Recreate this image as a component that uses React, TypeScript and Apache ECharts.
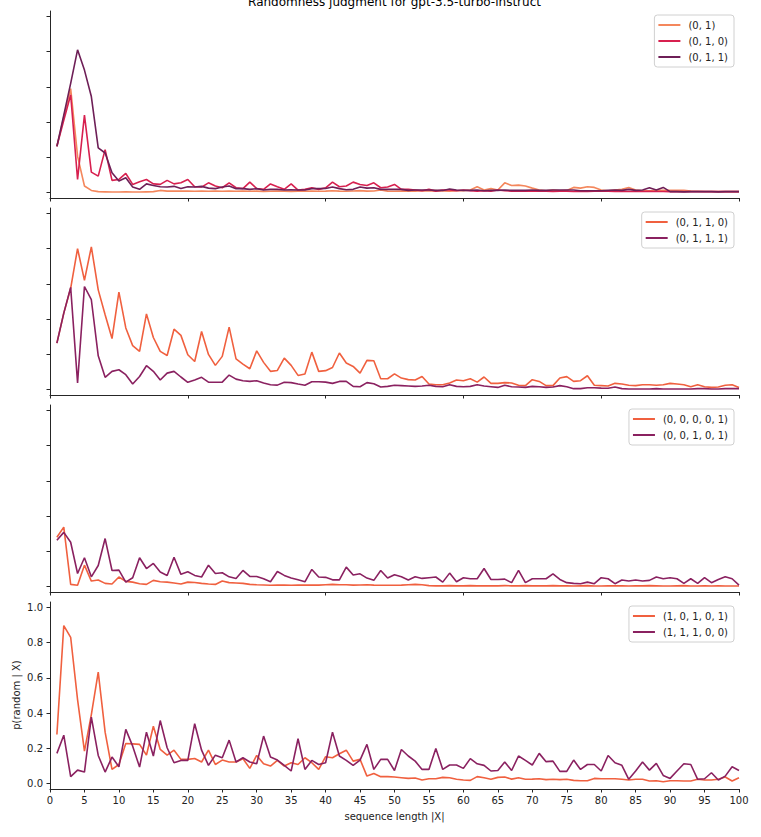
import React, { useEffect, useRef } from "react";
import * as echarts from "echarts";

const seqLength: number[] = Array.from({ length: 100 }, (_, i) => i + 1);

const names1 = ["(0, 1)", "(0, 1, 0)", "(0, 1, 1)"];
const names2 = ["(0, 1, 1, 0)", "(0, 1, 1, 1)"];
const names3 = ["(0, 0, 0, 0, 1)", "(0, 0, 1, 0, 1)"];
const names4 = ["(1, 0, 1, 0, 1)", "(1, 1, 1, 0, 0)"];

const p1a = [
  0.263, 0.43, 0.59, 0.207, 0.038, 0.013, 0.006, 0.005, 0.004, 0.004,
  0.005, 0.004, 0.004, 0.005, 0.006, 0.013, 0.009, 0.009, 0.01, 0.009,
  0.008, 0.009, 0.008, 0.009, 0.008, 0.01, 0.008, 0.009, 0.008, 0.009,
  0.007, 0.008, 0.009, 0.008, 0.007, 0.009, 0.008, 0.01, 0.008, 0.009,
  0.011, 0.009, 0.008, 0.01, 0.012, 0.009, 0.01, 0.015, 0.009, 0.008,
  0.009, 0.01, 0.009, 0.011, 0.01, 0.012, 0.01, 0.009, 0.011, 0.011,
  0.015, 0.034, 0.015, 0.023, 0.015, 0.056, 0.041, 0.043, 0.038, 0.026,
  0.015, 0.011, 0.015, 0.011, 0.013, 0.03, 0.026, 0.034, 0.03, 0.015,
  0.011, 0.015, 0.019, 0.03, 0.015, 0.011, 0.011, 0.013, 0.013, 0.013,
  0.013, 0.013, 0.009, 0.008, 0.007, 0.007, 0.006, 0.007, 0.006, 0.006,
];
const p1b = [
  0.263, 0.41, 0.555, 0.075, 0.44, 0.117, 0.094, 0.244, 0.07, 0.075,
  0.109, 0.047, 0.062, 0.075, 0.05, 0.047, 0.07, 0.05, 0.056, 0.075,
  0.034, 0.032, 0.056, 0.038, 0.028, 0.056, 0.028, 0.023, 0.06, 0.024,
  0.019, 0.05, 0.034, 0.019, 0.05, 0.015, 0.019, 0.028, 0.019, 0.028,
  0.06, 0.034, 0.038, 0.06, 0.047, 0.041, 0.056, 0.028, 0.032, 0.047,
  0.019, 0.019, 0.015, 0.011, 0.019, 0.009, 0.015, 0.015, 0.011, 0.015,
  0.011, 0.009, 0.011, 0.009, 0.015, 0.011, 0.009, 0.008, 0.009, 0.008,
  0.009, 0.008, 0.007, 0.009, 0.008, 0.007, 0.008, 0.007, 0.008, 0.009,
  0.008, 0.007, 0.008, 0.007, 0.008, 0.007, 0.008, 0.007, 0.007, 0.006,
  0.007, 0.006, 0.007, 0.006, 0.006, 0.007, 0.006, 0.006, 0.006, 0.006,
];
const p1c = [
  0.263, 0.44, 0.62, 0.81, 0.695, 0.545, 0.254, 0.225, 0.113, 0.066,
  0.085, 0.032, 0.019, 0.05, 0.041, 0.034, 0.032, 0.036, 0.024, 0.034,
  0.032, 0.036, 0.026, 0.023, 0.032, 0.038, 0.023, 0.023, 0.019, 0.023,
  0.015, 0.019, 0.019, 0.015, 0.017, 0.015, 0.015, 0.023, 0.023, 0.024,
  0.032, 0.023, 0.017, 0.019, 0.032, 0.026, 0.028, 0.019, 0.019, 0.019,
  0.019, 0.013, 0.015, 0.015, 0.015, 0.013, 0.013, 0.021, 0.015, 0.013,
  0.013, 0.015, 0.011, 0.013, 0.013, 0.015, 0.013, 0.013, 0.013, 0.015,
  0.013, 0.013, 0.015, 0.015, 0.015, 0.015, 0.011, 0.011, 0.011, 0.011,
  0.013, 0.015, 0.013, 0.019, 0.013, 0.015, 0.028, 0.015, 0.03, 0.006,
  0.006, 0.005, 0.006, 0.007, 0.006, 0.006, 0.005, 0.006, 0.006, 0.006,
];
const p2a = [
  0.264, 0.434, 0.575, 0.8, 0.62, 0.81, 0.566, 0.425, 0.29, 0.553,
  0.35, 0.25, 0.217, 0.43, 0.296, 0.217, 0.194, 0.343, 0.308, 0.198,
  0.16, 0.33, 0.2, 0.138, 0.189, 0.355, 0.175, 0.145, 0.119, 0.22,
  0.155, 0.104, 0.109, 0.179, 0.138, 0.081, 0.089, 0.213, 0.104, 0.108,
  0.126, 0.208, 0.151, 0.132, 0.094, 0.166, 0.164, 0.062, 0.062, 0.09,
  0.066, 0.057, 0.055, 0.075, 0.032, 0.028, 0.028, 0.038, 0.055, 0.051,
  0.062, 0.043, 0.072, 0.036, 0.036, 0.04, 0.038, 0.025, 0.023, 0.057,
  0.047, 0.023, 0.023, 0.066, 0.074, 0.047, 0.051, 0.079, 0.025, 0.023,
  0.021, 0.036, 0.032, 0.025, 0.023, 0.028, 0.028, 0.025, 0.028, 0.036,
  0.032, 0.028, 0.017, 0.028, 0.017, 0.013, 0.015, 0.025, 0.028, 0.013,
];
const p2b = [
  0.264, 0.434, 0.58, 0.038, 0.585, 0.51, 0.192, 0.07, 0.104, 0.113,
  0.085, 0.032, 0.075, 0.136, 0.104, 0.055, 0.094, 0.104, 0.072, 0.042,
  0.055, 0.07, 0.043, 0.042, 0.043, 0.083, 0.06, 0.051, 0.047, 0.051,
  0.038, 0.028, 0.026, 0.042, 0.04, 0.032, 0.025, 0.045, 0.045, 0.043,
  0.036, 0.047, 0.047, 0.019, 0.017, 0.04, 0.034, 0.015, 0.019, 0.025,
  0.023, 0.021, 0.019, 0.021, 0.025, 0.019, 0.017, 0.028, 0.019, 0.017,
  0.019, 0.028, 0.021, 0.017, 0.013, 0.025, 0.017, 0.015, 0.013, 0.019,
  0.017, 0.013, 0.015, 0.023, 0.017, 0.006, 0.006, 0.011, 0.011, 0.009,
  0.008, 0.015, 0.006, 0.004, 0.004, 0.004, 0.004, 0.006, 0.004, 0.004,
  0.004, 0.004, 0.004, 0.006, 0.006, 0.004, 0.004, 0.006, 0.006, 0.006,
];
const p3a = [
  0.28, 0.338, 0.013, 0.008, 0.122, 0.032, 0.038, 0.019, 0.015, 0.055,
  0.03, 0.026, 0.017, 0.013, 0.036, 0.028, 0.026, 0.021, 0.015, 0.026,
  0.024, 0.019, 0.015, 0.013, 0.032, 0.023, 0.021, 0.019, 0.013, 0.011,
  0.01, 0.008, 0.009, 0.009, 0.008, 0.01, 0.009, 0.009, 0.009, 0.011,
  0.013, 0.011, 0.011, 0.009, 0.01, 0.011, 0.009, 0.008, 0.008, 0.008,
  0.009, 0.011, 0.013, 0.011, 0.006, 0.005, 0.005, 0.006, 0.005, 0.005,
  0.006, 0.005, 0.005, 0.005, 0.005, 0.006, 0.005, 0.005, 0.006, 0.005,
  0.005, 0.005, 0.006, 0.005, 0.005, 0.004, 0.005, 0.006, 0.004, 0.004,
  0.005, 0.005, 0.005, 0.004, 0.005, 0.005, 0.006, 0.005, 0.004, 0.004,
  0.005, 0.006, 0.004, 0.004, 0.005, 0.004, 0.005, 0.004, 0.004, 0.004,
];
const p3b = [
  0.263, 0.308, 0.252, 0.075, 0.164, 0.056, 0.12, 0.273, 0.092, 0.094,
  0.026, 0.051, 0.164, 0.103, 0.132, 0.083, 0.064, 0.167, 0.07, 0.085,
  0.064, 0.055, 0.122, 0.075, 0.079, 0.056, 0.047, 0.092, 0.058, 0.058,
  0.045, 0.028, 0.086, 0.064, 0.049, 0.039, 0.028, 0.098, 0.055, 0.053,
  0.039, 0.039, 0.111, 0.066, 0.073, 0.049, 0.036, 0.092, 0.049, 0.068,
  0.056, 0.038, 0.056, 0.047, 0.051, 0.055, 0.026, 0.077, 0.028, 0.051,
  0.045, 0.045, 0.103, 0.041, 0.041, 0.043, 0.023, 0.092, 0.023, 0.045,
  0.045, 0.045, 0.073, 0.041, 0.023, 0.019, 0.017, 0.026, 0.017, 0.051,
  0.045, 0.017, 0.038, 0.032, 0.038, 0.032, 0.036, 0.055, 0.045, 0.051,
  0.045, 0.019, 0.045, 0.019, 0.051, 0.023, 0.041, 0.056, 0.045, 0.009,
];
const p4a = [
  0.279, 0.896, 0.83, 0.477, 0.185, 0.392, 0.632, 0.292, 0.081, 0.109,
  0.228, 0.226, 0.223, 0.162, 0.326, 0.194, 0.162, 0.19, 0.138, 0.138,
  0.143, 0.123, 0.19, 0.109, 0.134, 0.123, 0.123, 0.142, 0.087, 0.16,
  0.113, 0.1, 0.132, 0.1, 0.119, 0.109, 0.147, 0.119, 0.081, 0.153,
  0.147, 0.17, 0.19, 0.128, 0.138, 0.043, 0.058, 0.04, 0.04, 0.038,
  0.034, 0.03, 0.032, 0.021, 0.028, 0.028, 0.036, 0.034, 0.025, 0.021,
  0.019, 0.04, 0.034, 0.025, 0.036, 0.038, 0.026, 0.034, 0.025, 0.026,
  0.028, 0.023, 0.025, 0.023, 0.025, 0.019, 0.017, 0.017, 0.03, 0.028,
  0.028, 0.028, 0.025, 0.021, 0.025, 0.025, 0.015, 0.017, 0.011, 0.017,
  0.017, 0.015, 0.015, 0.025, 0.021, 0.021, 0.025, 0.038, 0.015, 0.034,
];
const p4b = [
  0.172, 0.275, 0.04, 0.077, 0.066, 0.377, 0.16, 0.066, 0.151, 0.096,
  0.308, 0.213, 0.094, 0.292, 0.157, 0.358, 0.204, 0.119, 0.132, 0.132,
  0.34, 0.19, 0.104, 0.162, 0.147, 0.247, 0.123, 0.147, 0.123, 0.113,
  0.27, 0.151, 0.134, 0.104, 0.072, 0.255, 0.081, 0.132, 0.109, 0.119,
  0.292, 0.157, 0.132, 0.104, 0.134, 0.223, 0.081, 0.138, 0.138, 0.075,
  0.194, 0.157, 0.128, 0.081, 0.081, 0.2, 0.081, 0.106, 0.106, 0.087,
  0.142, 0.113, 0.104, 0.072, 0.075, 0.123, 0.075, 0.157, 0.132, 0.106,
  0.172, 0.125, 0.128, 0.07, 0.07, 0.134, 0.081, 0.109, 0.109, 0.072,
  0.16, 0.119, 0.104, 0.025, 0.072, 0.123, 0.077, 0.115, 0.047, 0.03,
  0.072, 0.113, 0.109, 0.025, 0.028, 0.062, 0.021, 0.043, 0.096, 0.075,
];

const yTicks = [0, 0.2, 0.4, 0.6, 0.8, 1.0];
const panels = [
  { names: names1, data: [p1a, p1b, p1c], colors: ["#f4875c", "#d7204f", "#6e1f57"] },
  { names: names2, data: [p2a, p2b], colors: ["#f0603f", "#8a2160"] },
  { names: names3, data: [p3a, p3b], colors: ["#f0603f", "#8a2160"] },
  { names: names4, data: [p4a, p4b], colors: ["#f0603f", "#8a2160"] },
];

const FONT = "DejaVu Sans";
const AX = "#262626";

export default function App() {
  const ref = useRef<HTMLDivElement>(null);
  useEffect(() => {
    if (!ref.current) return;
    const chart = echarts.init(ref.current, null, { renderer: "svg" });
    const tops = [11, 208, 405, 602];
    const H = 187;
    const grid = tops.map((t) => ({ left: 50, right: 22, top: t, height: H }));
    const xAxis = tops.map((_, i) => {
      const last = i === 3;
      return {
        type: "value",
        gridIndex: i,
        min: 0,
        max: 100,
        interval: last ? 5 : 20,
        splitLine: { show: false },
        axisLine: { show: true, onZero: false, lineStyle: { color: AX, width: 1 } },
        axisTick: { show: true, length: 3.5, lineStyle: { color: AX, width: 1 } },
        axisLabel: { show: last, fontSize: 10, color: "#222", fontFamily: FONT, margin: 6 },
      };
    });
    const yAxis = tops.map((_, i) => {
      const last = i === 3;
      return {
        type: "value",
        gridIndex: i,
        min: -0.03,
        max: 1.03,
        splitLine: { show: false },
        axisLine: { show: true, onZero: false, lineStyle: { color: AX, width: 1 } },
        axisTick: { show: true, length: 3.5, customValues: yTicks, lineStyle: { color: AX, width: 1 } },
        axisLabel: {
          show: last,
          customValues: yTicks,
          fontSize: 10,
          color: "#222",
          fontFamily: FONT,
          margin: 7,
          formatter: (v: number) => v.toFixed(1),
        },
      };
    });
    const series: any[] = [];
    const legend: any[] = [];
    panels.forEach((p, i) => {
      p.names.forEach((n, j) => {
        series.push({
          type: "line",
          name: n,
          xAxisIndex: i,
          yAxisIndex: i,
          data: seqLength.map((x, k) => [x, p.data[j][k]]),
          showSymbol: false,
          symbol: "none",
          lineStyle: { width: 1.6, color: p.colors[j] },
          itemStyle: { color: p.colors[j] },
          z: 2 + j,
        });
      });
      legend.push({
        data: p.names,
        orient: "vertical",
        right: 27,
        top: tops[i] + 4,
        icon: "rect",
        itemWidth: 22,
        itemHeight: 2,
        itemGap: 4,
        padding: [4, 6, 4, 4],
        backgroundColor: "#ffffff",
        borderColor: "#d0d0d0",
        borderWidth: 1,
        borderRadius: 3,
        textStyle: { fontSize: 10, fontFamily: FONT, color: "#222", lineHeight: 12, padding: [0, 0, 0, 3] },
        selectedMode: false,
      });
    });
    chart.setOption({
      animation: false,
      backgroundColor: "#ffffff",
      grid,
      xAxis,
      yAxis,
      series,
      legend,
      graphic: [
        {
          type: "text",
          x: 394.5,
          y: 8,
          style: {
            text: "Randomness judgment for gpt-3.5-turbo-instruct",
            fontSize: 12,
            fontFamily: FONT,
            fill: "#000",
            textAlign: "center",
            textVerticalAlign: "bottom",
          },
        },
        {
          type: "text",
          x: 394.5,
          y: 816,
          style: {
            text: "sequence length |X|",
            fontSize: 10,
            fontFamily: FONT,
            fill: "#222",
            textAlign: "center",
            textVerticalAlign: "middle",
          },
        },
        {
          type: "text",
          x: 16.5,
          y: 695,
          rotation: Math.PI / 2,
          style: {
            text: "p(random | X)",
            fontSize: 10,
            fontFamily: FONT,
            fill: "#222",
            textAlign: "center",
            textVerticalAlign: "middle",
          },
        },
      ],
    });
    return () => chart.dispose();
  }, []);
  return (
    <div
      ref={ref}
      style={{ position: "fixed", left: 0, top: 0, width: 761, height: 837, background: "#fff" }}
    />
  );
}
